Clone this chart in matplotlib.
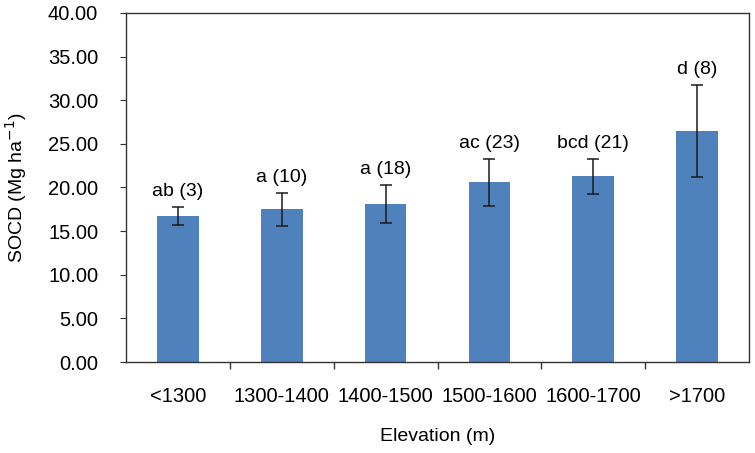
import numpy as np
import matplotlib.pyplot as plt

plt.rcParams['font.family'] = ['Liberation Sans', 'DejaVu Sans']

# elevation classes and SOCD values
categories = ["<1300", "1300-1400", "1400-1500", "1500-1600", "1600-1700", ">1700"]
socd = [16.7, 17.5, 18.1, 20.6, 21.3, 26.5]
err = [1.05, 1.9, 2.2, 2.7, 2.0, 5.3]
labels = ["ab (3)", "a (10)", "a (18)", "ac (23)", "bcd (21)", "d (8)"]

fig = plt.figure(figsize=(7.55, 4.53), dpi=100)
ax = fig.add_axes([126 / 755, 1 - 362 / 453, (749 - 126) / 755, (362 - 13) / 453])

x = np.arange(len(categories))
ax.bar(x, socd, width=0.4, color="#4f81bd", zorder=2)
ax.errorbar(x, socd, yerr=err, fmt="none", ecolor="#1a1a1a", elinewidth=1.1,
            capsize=4, capthick=1.1, zorder=3)

for xi, v, e, lab in zip(x, socd, err, labels):
    ax.annotate(lab, (xi, v + e), xytext=(0, 5), textcoords="offset points",
                ha="center", va="bottom", fontsize=14)

ax.set_xlim(-0.5, len(categories) - 0.5)
ax.set_ylim(0, 40)
ax.set_yticks(np.arange(0, 40.1, 5))
ax.set_yticklabels(["%.2f" % t for t in np.arange(0, 40.1, 5)])
ax.set_xticks(x)
ax.set_xticklabels(categories)
ax.set_xticks(np.arange(0.5, len(categories) - 1, 1), minor=True)
ax.tick_params(axis="x", which="major", length=0, pad=18, labelsize=14.5)
ax.tick_params(axis="x", which="minor", length=5, direction="out", width=1, color="#333333")
ax.tick_params(axis="y", length=4, direction="out", pad=16, labelsize=14.5, color="#333333")

for sp in ax.spines.values():
    sp.set_color("#333333")
    sp.set_linewidth(1)

ax.set_xlabel("Elevation (m)", fontsize=14, labelpad=16)
ax.set_ylabel("SOCD (Mg ha$^{-1}$)", fontsize=14, labelpad=14)

fig.savefig("out.png", dpi=100)
